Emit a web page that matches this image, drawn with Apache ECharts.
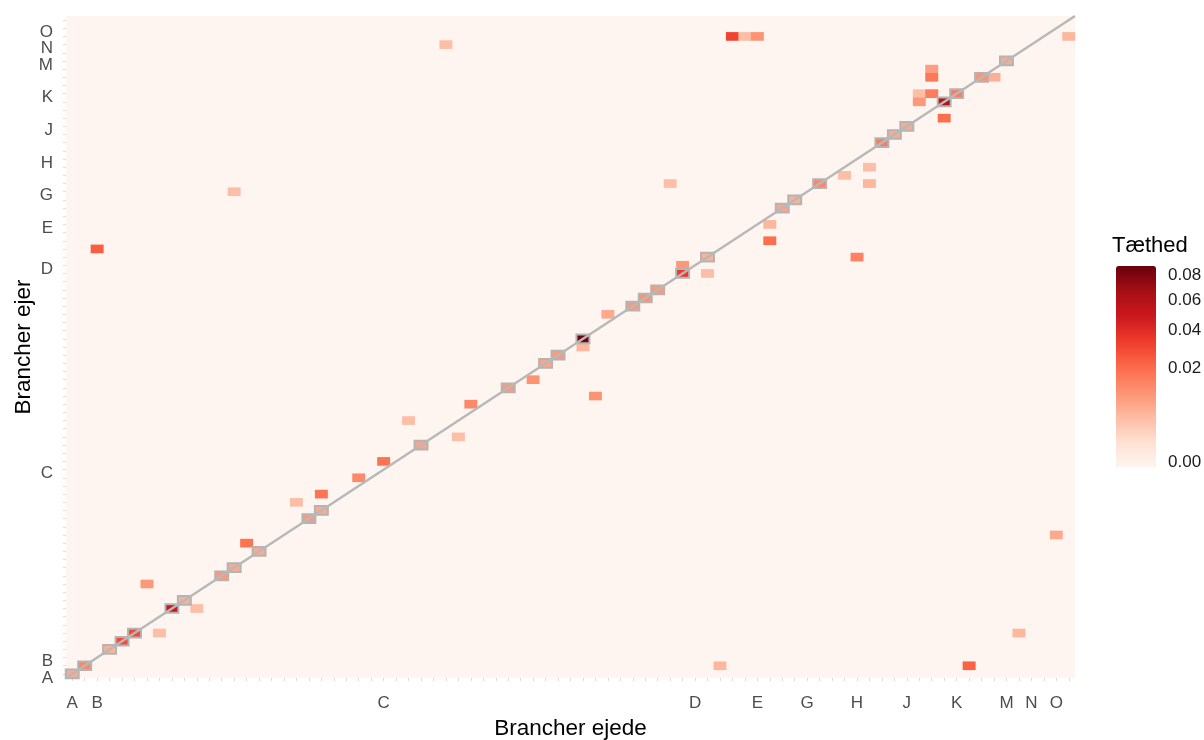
<!DOCTYPE html>
<html>
<head>
<meta charset="utf-8">
<script src="https://cdn.jsdelivr.net/npm/echarts@6/dist/echarts.min.js"></script>
<style>
  html, body { margin: 0; padding: 0; background: #fff; }
  #main { width: 1204px; height: 740px; }
</style>
</head>
<body>
<div id="main"></div>
<script>
// branch groups, and the branch index where each group starts (81 branches)
var groupLetters = ['A', 'B', 'C', 'D', 'E', 'G', 'H', 'J', 'K', 'M', 'N', 'O'];
var groupStart = [0, 2, 25, 50, 55, 59, 63, 67, 71, 75, 77, 79];
var branchCount = 81;

// density where owner branch == owned branch
var diagIndex = [0, 1, 3, 4, 5, 8, 9, 12, 13, 15, 19, 20, 28, 35, 38, 39, 41, 45, 46, 47,
                 49, 51, 57, 58, 60, 65, 66, 67, 70, 71, 73, 75];
var diagValue = [0.008, 0.015, 0.007, 0.03, 0.03, 0.05, 0.007, 0.011, 0.008, 0.008, 0.011, 0.008,
                 0.009, 0.011, 0.009, 0.011, 0.085, 0.011, 0.012, 0.011, 0.035, 0.007, 0.009,
                 0.007, 0.015, 0.017, 0.008, 0.008, 0.06, 0.017, 0.012, 0.008];

// other cells: [ejede (x), ejer (y), density]
var offDiag = [
  [30, 77, 0.005], [53, 78, 0.032], [54, 78, 0.005], [55, 78, 0.012], [80, 78, 0.006],
  [48, 60, 0.005], [56, 55, 0.006], [56, 53, 0.021], [69, 74, 0.010], [69, 73, 0.018],
  [68, 71, 0.005], [68, 70, 0.011], [69, 71, 0.017], [70, 68, 0.021], [74, 73, 0.007],
  [64, 62, 0.005], [64, 60, 0.006], [62, 61, 0.005], [63, 51, 0.016], [49, 50, 0.011],
  [51, 49, 0.005], [43, 44, 0.008], [41, 40, 0.006], [42, 34, 0.012], [37, 36, 0.012],
  [32, 33, 0.014], [27, 31, 0.005], [31, 29, 0.005], [2, 52, 0.025], [25, 26, 0.019],
  [23, 24, 0.014], [20, 22, 0.019], [13, 59, 0.005], [18, 21, 0.005], [14, 16, 0.019],
  [6, 11, 0.011], [10, 8, 0.005], [7, 5, 0.005], [79, 17, 0.008], [76, 5, 0.006],
  [72, 1, 0.024], [52, 1, 0.006]
];

var legendTicks = [0, 0.02, 0.04, 0.06, 0.08];
var densityMax = 0.088;
var reds = ['#FFF5F0', '#FEE0D2', '#FCBBA1', '#FC9272', '#FB6A4A', '#EF3B2C', '#CB181D', '#A50F15', '#67000D'];

var categories = [];
for (var g = 0; g < groupLetters.length; g++) {
  var end = g + 1 < groupStart.length ? groupStart[g + 1] : branchCount;
  for (var k = groupStart[g]; k < end; k++) {
    categories.push(groupLetters[g] + (k - groupStart[g] + 1));
  }
}

// colour scale is square-root transformed, so keep sqrt(density) as 4th dim
var cells = offDiag.map(function (d) {
  return [d[0], d[1], d[2], Math.sqrt(d[2])];
});
diagIndex.forEach(function (k, n) {
  cells.push({
    value: [k, k, diagValue[n], Math.sqrt(diagValue[n])],
    itemStyle: { borderColor: '#b4b4b4', borderWidth: 2 }
  });
});

var font = "'Liberation Sans', Arial, sans-serif";
var sqrtTicks = legendTicks.map(function (v) { return Math.sqrt(v); });
// every category gets a label slot, only the first branch of a group shows its letter
function groupLabel(name, idx) {
  return groupStart.indexOf(idx) >= 0 ? name.replace(/[0-9]+/, '') : '';
}

var myChart = echarts.init(document.getElementById('main'));
var option = {
  animation: false,
  textStyle: { fontFamily: font },
  title: {
    text: 'Tæthed', left: 1112, top: 235, padding: 0,
    textStyle: { fontFamily: font, fontSize: 22, fontWeight: 'normal', color: '#000' }
  },
  grid: [
    {
      left: 66, top: 16, width: 1009, height: 662, outerBoundsMode: 'none',
      show: true, backgroundColor: reds[0], borderWidth: 0
    },
    { left: 1116, top: 266, width: 40, height: 196, outerBoundsMode: 'none', show: false }
  ],
  xAxis: [
    {
      type: 'category', gridIndex: 0, data: categories,
      name: 'Brancher ejede', nameLocation: 'middle', nameGap: 39, nameMoveOverlap: false,
      nameTextStyle: { fontSize: 22.5, color: '#000', fontFamily: font },
      axisLine: { show: false },
      axisTick: { show: true, interval: 0, alignWithLabel: true, length: 3, lineStyle: { color: '#dcdcdc' } },
      axisLabel: {
        interval: 0, formatter: groupLabel,
        fontSize: 17, color: '#4d4d4d', margin: 17
      },
      splitLine: { show: false }
    },
    { type: 'value', gridIndex: 0, min: 0, max: branchCount, show: false },
    { type: 'value', gridIndex: 1, min: 0, max: 1, show: false }
  ],
  yAxis: [
    {
      type: 'category', gridIndex: 0, data: categories, position: 'left',
      name: 'Brancher ejer', nameLocation: 'middle', nameGap: 31, nameRotate: 90, nameMoveOverlap: false,
      nameTextStyle: { fontSize: 22.5, color: '#000', fontFamily: font },
      axisLine: { show: false },
      axisTick: { show: true, interval: 0, alignWithLabel: true, length: 3, lineStyle: { color: '#dcdcdc' } },
      // letters sit on the lower edge of each group's first row
      axisLabel: {
        interval: 0, formatter: groupLabel,
        fontSize: 17, color: '#4d4d4d', margin: 13,
        verticalAlign: 'top', lineHeight: 8
      },
      splitLine: { show: false }
    },
    { type: 'value', gridIndex: 0, min: 0, max: branchCount, show: false },
    {
      type: 'value', gridIndex: 1, position: 'right', min: 0, max: Math.sqrt(densityMax),
      axisLine: { show: false },
      axisTick: { show: true, inside: true, length: 7, customValues: sqrtTicks, lineStyle: { color: '#fff', width: 1.5 } },
      axisLabel: {
        customValues: sqrtTicks, margin: 12, fontSize: 17, color: '#1a1a1a',
        formatter: function (v) { return (v * v).toFixed(2); }
      },
      splitLine: { show: false }
    },
    {
      type: 'value', gridIndex: 1, position: 'left', min: 0, max: Math.sqrt(densityMax),
      axisLine: { show: false },
      axisTick: { show: true, inside: true, length: 7, customValues: sqrtTicks, lineStyle: { color: '#fff', width: 1.5 } },
      axisLabel: { show: false },
      splitLine: { show: false }
    }
  ],
  visualMap: {
    type: 'continuous', seriesIndex: 0, dimension: 3,
    min: 0, max: Math.sqrt(densityMax),
    calculable: false, left: 1116, top: 266, padding: 0,
    itemWidth: 40, itemHeight: 201,
    inRange: { color: reds }
  },
  series: [
    {
      type: 'heatmap', xAxisIndex: 0, yAxisIndex: 0,
      data: cells, silent: true
    },
    {
      type: 'line', xAxisIndex: 1, yAxisIndex: 1,
      data: [[0, 0], [branchCount, branchCount]],
      symbol: 'none', silent: true, z: 5,
      lineStyle: { color: '#b8b8b8', width: 2.5 }
    }
  ]
};
myChart.setOption(option);
</script>
</body>
</html>
